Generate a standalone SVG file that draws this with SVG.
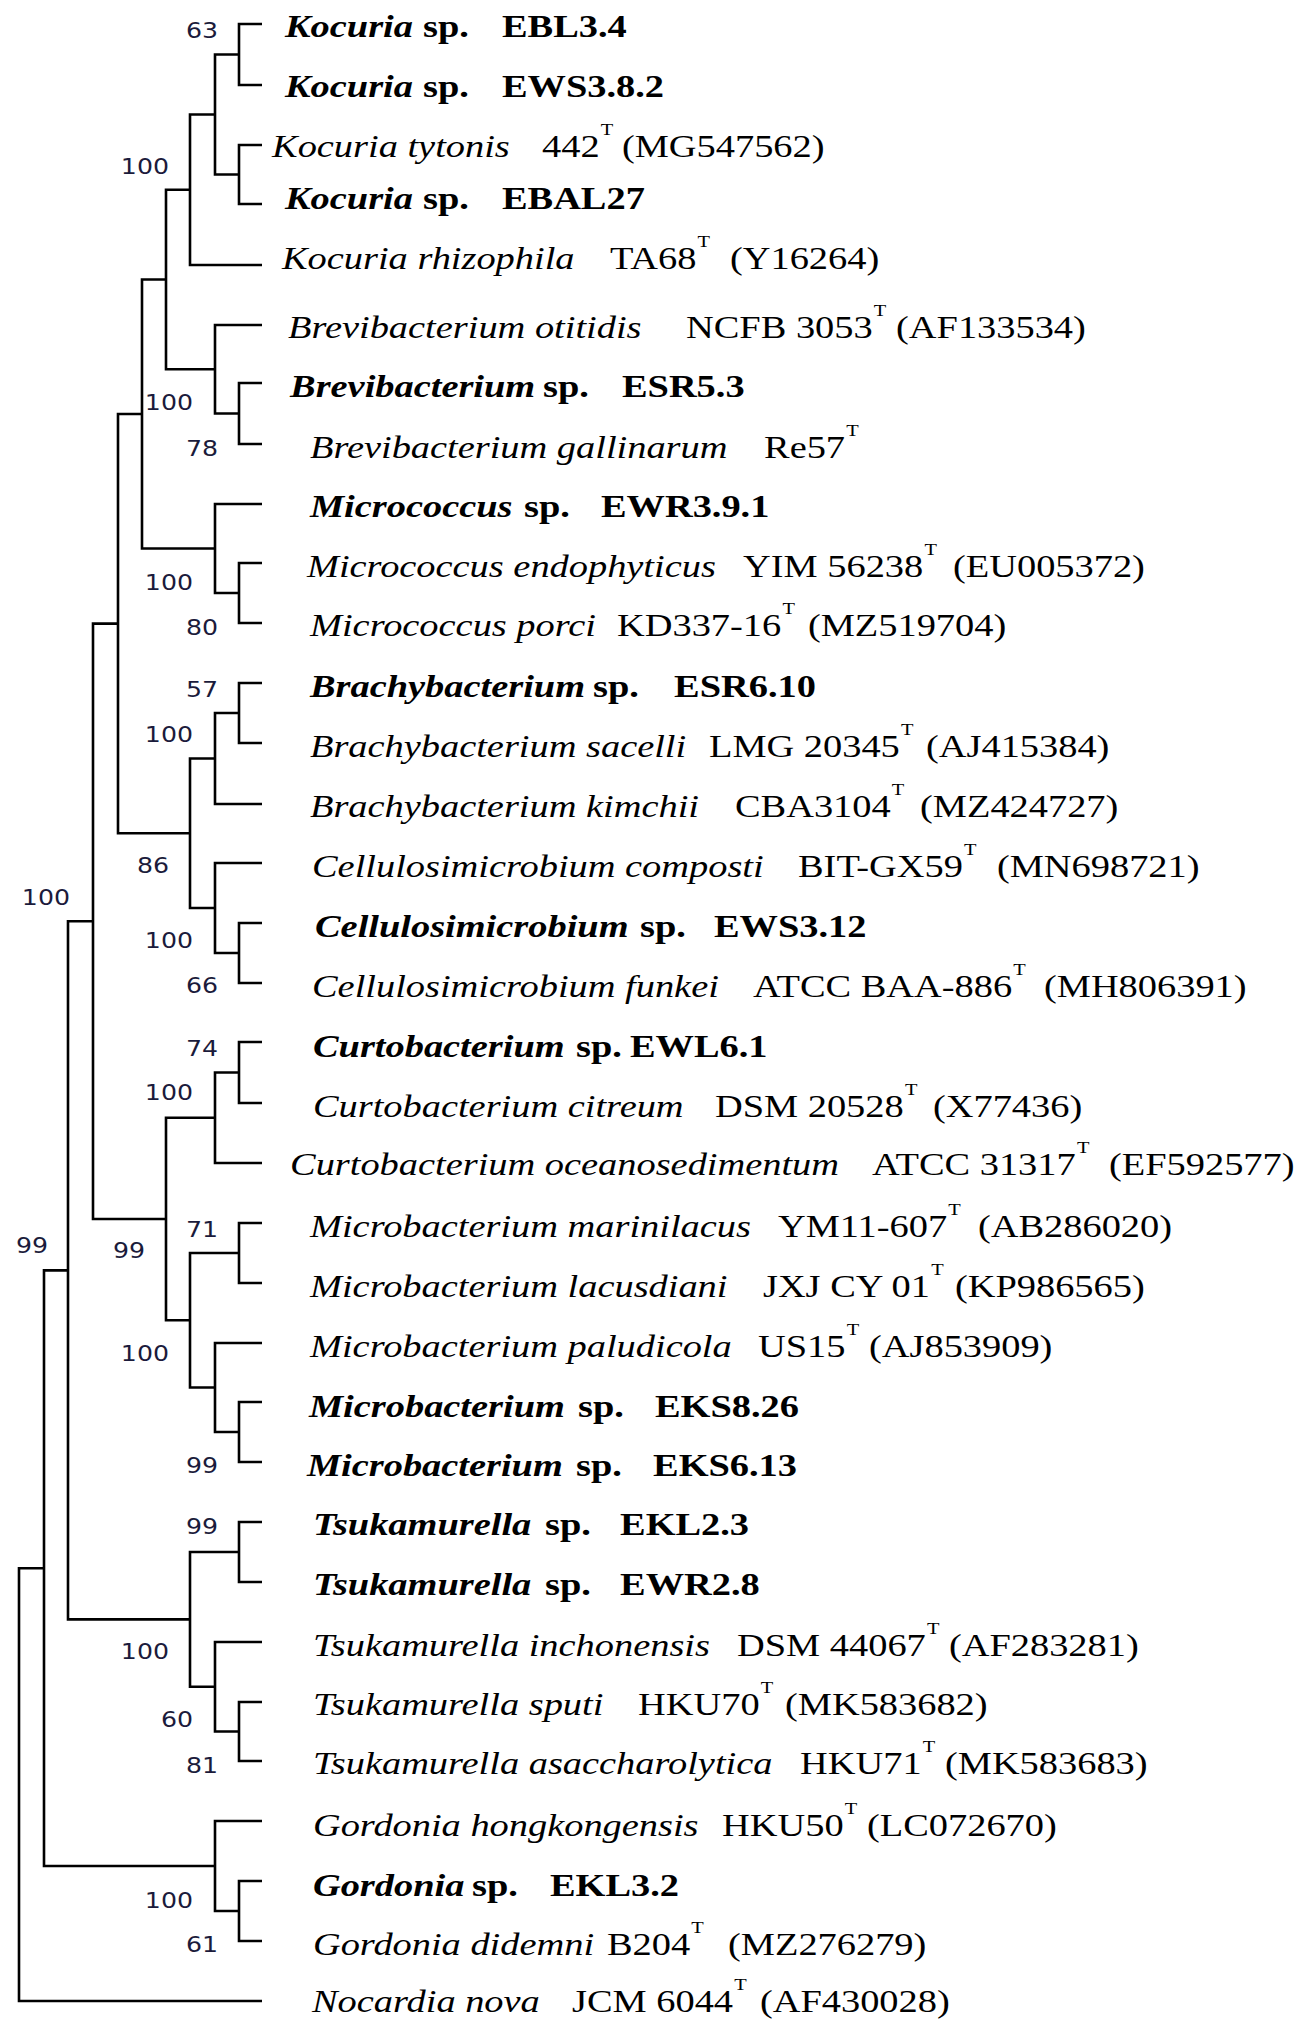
<svg xmlns="http://www.w3.org/2000/svg" width="1299" height="2021" viewBox="0 0 1299 2021">
<style>
.t{font-family:"Liberation Serif","Times New Roman",serif;font-size:32px;fill:#000}
.i{font-style:italic}
.b{font-weight:bold}
.bi{font-weight:bold;font-style:italic}
.sup{font-size:17px}
.bs{font-family:"DejaVu Sans",Verdana,sans-serif;font-size:21px;fill:#1b1b3b;text-anchor:end}
.tree{fill:none;stroke:#000;stroke-width:2.6;stroke-linejoin:miter}
</style>
<rect width="1299" height="2021" fill="#fff"/>
<g id="connectors" class="tree">
<path d="M262 24H239V85H262"/>
<path d="M262 145H239V204H262"/>
<path d="M239 54.5H215V174.5H239"/>
<path d="M215 114.5H190V265H262"/>
<path d="M262 383H239V444H262"/>
<path d="M262 325H215V413.5H239"/>
<path d="M190 189.75H166V369.25H215"/>
<path d="M262 563H239V623H262"/>
<path d="M262 504H215V593H239"/>
<path d="M166 279.5H142V548.5H215"/>
<path d="M262 683H239V743H262"/>
<path d="M239 713H215V804H262"/>
<path d="M262 923H239V983H262"/>
<path d="M262 863H215V953H239"/>
<path d="M215 758.5H190V908H215"/>
<path d="M142 414H118V833.25H190"/>
<path d="M262 1042H239V1103H262"/>
<path d="M239 1072.5H215V1163H262"/>
<path d="M262 1223H239V1283H262"/>
<path d="M262 1402H239V1462H262"/>
<path d="M262 1343H215V1432H239"/>
<path d="M239 1253H190V1387.5H215"/>
<path d="M215 1117.75H166V1320.25H190"/>
<path d="M118 623.6H93V1219H166"/>
<path d="M262 1522H239V1582H262"/>
<path d="M262 1702H239V1761H262"/>
<path d="M262 1642H215V1731.5H239"/>
<path d="M239 1552H190V1686.75H215"/>
<path d="M93 921.3H68V1619.4H190"/>
<path d="M262 1881H239V1941H262"/>
<path d="M262 1821H215V1911H239"/>
<path d="M68 1270.35H44V1866H215"/>
<path d="M44 1568.2H19V2001H262"/>
</g>
<g id="bootstrap" class="bs" transform="scale(1.2,1)">
<text x="181.7" y="38">63</text>
<text x="140.8" y="174">100</text>
<text x="160.8" y="410">100</text>
<text x="181.7" y="456">78</text>
<text x="160.8" y="590">100</text>
<text x="181.7" y="635">80</text>
<text x="181.7" y="697">57</text>
<text x="160.8" y="742">100</text>
<text x="140.8" y="873">86</text>
<text x="58.3" y="905">100</text>
<text x="160.8" y="948">100</text>
<text x="181.7" y="993">66</text>
<text x="181.7" y="1056">74</text>
<text x="160.8" y="1100">100</text>
<text x="181.7" y="1237">71</text>
<text x="40" y="1253">99</text>
<text x="120.8" y="1258">99</text>
<text x="140.8" y="1361">100</text>
<text x="181.7" y="1473">99</text>
<text x="181.7" y="1534">99</text>
<text x="140.8" y="1659">100</text>
<text x="160.8" y="1727">60</text>
<text x="181.7" y="1773">81</text>
<text x="160.8" y="1908">100</text>
<text x="181.7" y="1952">61</text>
</g>
<g class="t" transform="scale(1.2,1)">
<g id="leaf01"><text y="37"><tspan class="bi" x="237.5">Kocuria</tspan><tspan class="b" x="352.5">sp.</tspan><tspan class="b" x="418.3">EBL3.4</tspan></text></g>
<g id="leaf02"><text y="97"><tspan class="bi" x="237.5">Kocuria</tspan><tspan class="b" x="352.5">sp.</tspan><tspan class="b" x="418.3">EWS3.8.2</tspan></text></g>
<g id="leaf03"><text y="157"><tspan class="i" x="226.7">Kocuria tytonis</tspan><tspan x="451.7">442</tspan><tspan class="sup" dx="1" y="135">T</tspan><tspan x="518.3" y="157">(MG547562)</tspan></text></g>
<g id="leaf04"><text y="209"><tspan class="bi" x="237.5">Kocuria</tspan><tspan class="b" x="352.5">sp.</tspan><tspan class="b" x="418.3">EBAL27</tspan></text></g>
<g id="leaf05"><text y="269"><tspan class="i" x="235">Kocuria rhizophila</tspan><tspan x="508.3">TA68</tspan><tspan class="sup" dx="1" y="247">T</tspan><tspan x="608.3" y="269">(Y16264)</tspan></text></g>
<g id="leaf06"><text y="338"><tspan class="i" x="240">Brevibacterium otitidis</tspan><tspan x="571.7">NCFB 3053</tspan><tspan class="sup" dx="1" y="316">T</tspan><tspan x="746.7" y="338">(AF133534)</tspan></text></g>
<g id="leaf07"><text y="397"><tspan class="bi" x="241.7">Brevibacterium</tspan><tspan class="b" x="452.5">sp.</tspan><tspan class="b" x="518.3">ESR5.3</tspan></text></g>
<g id="leaf08"><text y="458"><tspan class="i" x="258.3">Brevibacterium gallinarum</tspan><tspan x="636.7">Re57</tspan><tspan class="sup" dx="1" y="436">T</tspan></text></g>
<g id="leaf09"><text y="517"><tspan class="bi" x="258.3">Micrococcus</tspan><tspan class="b" x="436.7">sp.</tspan><tspan class="b" x="500.8">EWR3.9.1</tspan></text></g>
<g id="leaf10"><text y="577"><tspan class="i" x="255.8">Micrococcus endophyticus</tspan><tspan x="619.2">YIM 56238</tspan><tspan class="sup" dx="1" y="555">T</tspan><tspan x="794.2" y="577">(EU005372)</tspan></text></g>
<g id="leaf11"><text y="636"><tspan class="i" x="258.3">Micrococcus porci</tspan><tspan x="514.2">KD337-16</tspan><tspan class="sup" dx="1" y="614">T</tspan><tspan x="673.3" y="636">(MZ519704)</tspan></text></g>
<g id="leaf12"><text y="697"><tspan class="bi" x="258.3">Brachybacterium</tspan><tspan class="b" x="494.2">sp.</tspan><tspan class="b" x="561.7">ESR6.10</tspan></text></g>
<g id="leaf13"><text y="757"><tspan class="i" x="258.3">Brachybacterium sacelli</tspan><tspan x="590.8">LMG 20345</tspan><tspan class="sup" dx="1" y="735">T</tspan><tspan x="771.7" y="757">(AJ415384)</tspan></text></g>
<g id="leaf14"><text y="817"><tspan class="i" x="258.3">Brachybacterium kimchii</tspan><tspan x="612.5">CBA3104</tspan><tspan class="sup" dx="1" y="795">T</tspan><tspan x="766.7" y="817">(MZ424727)</tspan></text></g>
<g id="leaf15"><text y="877"><tspan class="i" x="260">Cellulosimicrobium composti</tspan><tspan x="665">BIT-GX59</tspan><tspan class="sup" dx="1" y="855">T</tspan><tspan x="830.8" y="877">(MN698721)</tspan></text></g>
<g id="leaf16"><text y="937"><tspan class="bi" x="262.5">Cellulosimicrobium</tspan><tspan class="b" x="533.3">sp.</tspan><tspan class="b" x="595">EWS3.12</tspan></text></g>
<g id="leaf17"><text y="997"><tspan class="i" x="260">Cellulosimicrobium funkei</tspan><tspan x="627.5">ATCC BAA-886</tspan><tspan class="sup" dx="1" y="975">T</tspan><tspan x="870" y="997">(MH806391)</tspan></text></g>
<g id="leaf18"><text y="1057"><tspan class="bi" x="260.8">Curtobacterium</tspan><tspan class="b" x="480">sp.</tspan><tspan class="b" x="525">EWL6.1</tspan></text></g>
<g id="leaf19"><text y="1117"><tspan class="i" x="260.8">Curtobacterium citreum</tspan><tspan x="595.8">DSM 20528</tspan><tspan class="sup" dx="1" y="1095">T</tspan><tspan x="777.5" y="1117">(X77436)</tspan></text></g>
<g id="leaf20"><text y="1175"><tspan class="i" x="241.7">Curtobacterium oceanosedimentum</tspan><tspan x="726.7">ATCC 31317</tspan><tspan class="sup" dx="1" y="1153">T</tspan><tspan x="924.2" y="1175">(EF592577)</tspan></text></g>
<g id="leaf21"><text y="1237"><tspan class="i" x="258.3">Microbacterium marinilacus</tspan><tspan x="648.3">YM11-607</tspan><tspan class="sup" dx="1" y="1215">T</tspan><tspan x="815" y="1237">(AB286020)</tspan></text></g>
<g id="leaf22"><text y="1297"><tspan class="i" x="258.3">Microbacterium lacusdiani</tspan><tspan x="635.8">JXJ CY 01</tspan><tspan class="sup" dx="1" y="1275">T</tspan><tspan x="795.8" y="1297">(KP986565)</tspan></text></g>
<g id="leaf23"><text y="1357"><tspan class="i" x="258.3">Microbacterium paludicola</tspan><tspan x="631.7">US15</tspan><tspan class="sup" dx="1" y="1335">T</tspan><tspan x="724.2" y="1357">(AJ853909)</tspan></text></g>
<g id="leaf24"><text y="1417"><tspan class="bi" x="257.5">Microbacterium</tspan><tspan class="b" x="481.7">sp.</tspan><tspan class="b" x="545.8">EKS8.26</tspan></text></g>
<g id="leaf25"><text y="1476"><tspan class="bi" x="255.8">Microbacterium</tspan><tspan class="b" x="480">sp.</tspan><tspan class="b" x="544.2">EKS6.13</tspan></text></g>
<g id="leaf26"><text y="1535"><tspan class="bi" x="260.8">Tsukamurella</tspan><tspan class="b" x="454.2">sp.</tspan><tspan class="b" x="516.7">EKL2.3</tspan></text></g>
<g id="leaf27"><text y="1595"><tspan class="bi" x="260.8">Tsukamurella</tspan><tspan class="b" x="454.2">sp.</tspan><tspan class="b" x="516.7">EWR2.8</tspan></text></g>
<g id="leaf28"><text y="1656"><tspan class="i" x="260.8">Tsukamurella inchonensis</tspan><tspan x="614.2">DSM 44067</tspan><tspan class="sup" dx="1" y="1634">T</tspan><tspan x="790.8" y="1656">(AF283281)</tspan></text></g>
<g id="leaf29"><text y="1715"><tspan class="i" x="260.8">Tsukamurella sputi</tspan><tspan x="531.7">HKU70</tspan><tspan class="sup" dx="1" y="1693">T</tspan><tspan x="654.2" y="1715">(MK583682)</tspan></text></g>
<g id="leaf30"><text y="1774"><tspan class="i" x="260.8">Tsukamurella asaccharolytica</tspan><tspan x="666.7">HKU71</tspan><tspan class="sup" dx="1" y="1752">T</tspan><tspan x="787.5" y="1774">(MK583683)</tspan></text></g>
<g id="leaf31"><text y="1836"><tspan class="i" x="260.8">Gordonia hongkongensis</tspan><tspan x="601.7">HKU50</tspan><tspan class="sup" dx="1" y="1814">T</tspan><tspan x="722.5" y="1836">(LC072670)</tspan></text></g>
<g id="leaf32"><text y="1896"><tspan class="bi" x="260.8">Gordonia</tspan><tspan class="b" x="393.3">sp.</tspan><tspan class="b" x="458.3">EKL3.2</tspan></text></g>
<g id="leaf33"><text y="1955"><tspan class="i" x="260.8">Gordonia didemni</tspan><tspan x="505.8">B204</tspan><tspan class="sup" dx="1" y="1933">T</tspan><tspan x="606.7" y="1955">(MZ276279)</tspan></text></g>
<g id="leaf34"><text y="2012"><tspan class="i" x="260">Nocardia nova</tspan><tspan x="476.7">JCM 6044</tspan><tspan class="sup" dx="1" y="1990">T</tspan><tspan x="633.3" y="2012">(AF430028)</tspan></text></g>
</g>
</svg>
